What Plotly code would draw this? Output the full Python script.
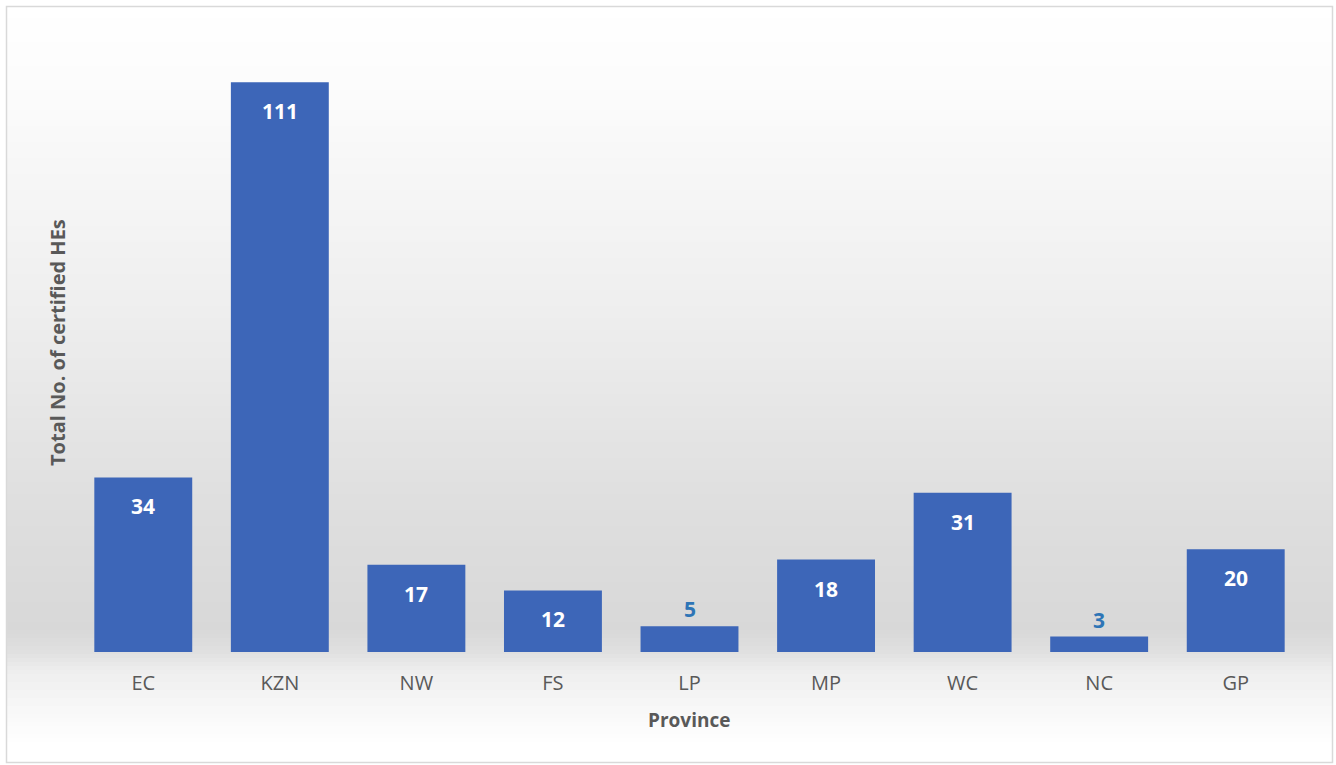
import plotly.graph_objects as go

provinces = ["EC", "KZN", "NW", "FS", "LP", "MP", "WC", "NC", "GP"]
certified = [34, 111, 17, 12, 5, 18, 31, 3, 20]

W, H = 1336, 765
ML, MR, MT, MB = 75, 32, 36, 113
PW, PH = W - ML - MR, H - MT - MB

def px_to_paper_x(px):
    return (px - ML) / PW

def px_to_paper_y(py):
    return (H - MB - py) / PH

fig = go.Figure()

fig.add_trace(go.Bar(
    x=provinces, y=certified,
    marker=dict(color="#3d66b8", line=dict(width=0)),
    hoverinfo="x+y",
))

# background gradient (frame area) built from thin horizontal strips
stops = [(6, 255), (100, 251), (300, 239), (500, 223), (630, 216), (652, 224),
         (670, 238), (710, 248), (745, 255), (760, 255)]

def gray_at(py):
    for (y0, g0), (y1, g1) in zip(stops[:-1], stops[1:]):
        if y0 <= py <= y1:
            t = (py - y0) / (y1 - y0)
            return g0 + (g1 - g0) * t
    return 255

shapes = []
step = 4
y = 6
while y < 760:
    y2 = min(y + step, 760)
    g = int(round(gray_at((y + y2) / 2)))
    shapes.append(dict(type="rect", xref="paper", yref="paper", layer="below",
                       x0=px_to_paper_x(7), x1=px_to_paper_x(1332),
                       y0=px_to_paper_y(y2), y1=px_to_paper_y(y),
                       fillcolor=f"rgb({g},{g},{g})", line=dict(width=0)))
    y = y2
# frame border
shapes.append(dict(type="rect", xref="paper", yref="paper", layer="below",
                   x0=px_to_paper_x(6.5), x1=px_to_paper_x(1332.5),
                   y0=px_to_paper_y(762.5), y1=px_to_paper_y(6.5),
                   fillcolor="rgba(0,0,0,0)", line=dict(color="#d9d9d9", width=1.5)))

annotations = []
for p, v in zip(provinces, certified):
    if v >= 10:
        annotations.append(dict(x=p, y=v, xref="x", yref="y", text=f"<b>{v}</b>",
                                showarrow=False, yshift=-29, yanchor="middle",
                                font=dict(family="Open Sans", size=21, color="white")))
    else:
        annotations.append(dict(x=p, y=v, xref="x", yref="y", text=f"<b>{v}</b>",
                                showarrow=False, yshift=17, yanchor="middle",
                                font=dict(family="Open Sans", size=21, color="#2e75b6")))

annotations.append(dict(x=px_to_paper_x(689), y=px_to_paper_y(720), xref="paper", yref="paper",
                        text="<b>Province</b>", showarrow=False, xanchor="center", yanchor="middle",
                        font=dict(family="Open Sans", size=19, color="#595959")))
annotations.append(dict(x=px_to_paper_x(57), y=px_to_paper_y(343), xref="paper", yref="paper",
                        text="<b>Total No. of certified HEs</b>", showarrow=False, textangle=-90,
                        xanchor="center", yanchor="middle",
                        font=dict(family="Open Sans", size=20, color="#595959")))

fig.update_layout(
    width=W, height=H,
    margin=dict(l=ML, r=MR, t=MT, b=MB, pad=0),
    paper_bgcolor="white", plot_bgcolor="rgba(0,0,0,0)",
    bargap=0.283,
    showlegend=False,
    shapes=shapes,
    annotations=annotations,
    xaxis=dict(showgrid=False, zeroline=False, showline=False,
               ticks="outside", ticklen=13, tickcolor="rgba(0,0,0,0)",
               tickfont=dict(family="Open Sans", size=20, color="#595959")),
    yaxis=dict(range=[0, 120], showgrid=False, zeroline=False, showline=False,
               showticklabels=False, ticks=""),
)

fig.write_html("out.html", config={"displayModeBar": False})
